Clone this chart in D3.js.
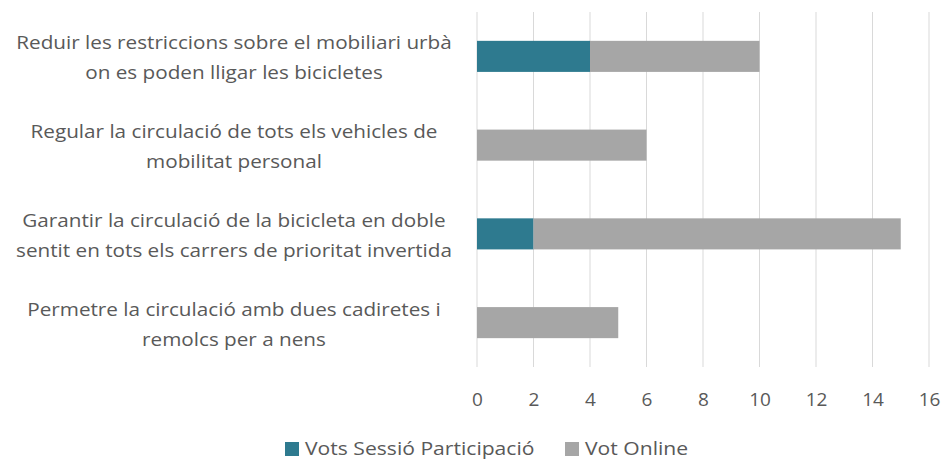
<!DOCTYPE html>
<html>
<head>
<meta charset="utf-8">
<script src="https://cdn.jsdelivr.net/npm/d3@7"></script>
<style>
  body { margin: 0; background: #fff; }
  text { font-family: "Open Sans", sans-serif; fill: #595959; }
</style>
</head>
<body>
<div id="container"></div>
<script>
/* DATA */
const categories = [
  ["Reduir les restriccions sobre el mobiliari urbà", "on es poden lligar les bicicletes"],
  ["Regular la circulació de tots els vehicles de", "mobilitat personal"],
  ["Garantir la circulació de la bicicleta en doble", "sentit en tots els carrers de prioritat invertida"],
  ["Permetre la circulació amb dues cadiretes i", "remolcs per a nens"]
];
const votsSessio = [4, 0, 2, 0];
const votOnline = [6, 6, 13, 5];
const seriesNames = ["Vots Sessió Participació", "Vot Online"];
const xTicks = [0, 2, 4, 6, 8, 10, 12, 14, 16];

/* CONSTANTS */
const width = 942, height = 460;
const margin = {top: 12, bottom: 93, left: 477, right: 13};
const colors = ["#2E7A8F", "#A6A6A6"];
const stretch = 1.15; // text in the reference is a bit wider than Open Sans

const rows = categories.map((c, i) => ({key: i, lines: c, s: votsSessio[i], o: votOnline[i]}));

const svg = d3.select("#container")
  .append("svg")
  .attr("width", width)
  .attr("height", height);

const xScale = d3.scaleLinear()
  .domain([0, 16])
  .range([margin.left, width - margin.right]);

const yScale = d3.scaleBand()
  .domain(rows.map(d => d.key))
  .range([margin.top, height - margin.bottom])
  .paddingInner(0.65)
  .paddingOuter(0.325);

// gridlines
svg.append("g")
  .selectAll("line")
  .data(xTicks)
  .join("line")
  .attr("x1", d => xScale(d))
  .attr("x2", d => xScale(d))
  .attr("y1", margin.top)
  .attr("y2", height - margin.bottom)
  .attr("stroke", "#D9D9D9")
  .attr("stroke-width", 1);

// x axis labels
const xAxis = d3.axisBottom(xScale).tickValues(xTicks).tickSize(0).tickPadding(0);
const xAxisGroup = svg.append("g")
  .attr("transform", `translate(0,${height - margin.bottom})`)
  .call(xAxis);
xAxisGroup.select(".domain").remove();
xAxisGroup.selectAll("text")
  .attr("font-size", 19)
  .attr("font-family", "Open Sans, sans-serif")
  .attr("fill", "#595959")
  .attr("dy", null)
  .attr("y", 39);

// stacked bars
const stack = d3.stack().keys(["s", "o"]);
const stacked = stack(rows);

svg.append("g")
  .selectAll("g")
  .data(stacked)
  .join("g")
  .attr("fill", (d, i) => colors[i])
  .selectAll("rect")
  .data(d => d)
  .join("rect")
  .attr("x", d => xScale(d[0]))
  .attr("y", d => yScale(d.data.key))
  .attr("width", d => xScale(d[1]) - xScale(d[0]))
  .attr("height", yScale.bandwidth());

// category labels
const labels = svg.append("g")
  .selectAll("text")
  .data(rows)
  .join("text")
  .attr("text-anchor", "middle")
  .attr("font-size", 18)
  .attr("transform", d => `translate(234,${yScale(d.key) + yScale.bandwidth() / 2}) scale(${stretch},1)`);

labels.selectAll("tspan")
  .data(d => d.lines.map((l, j) => ({l, j})))
  .join("tspan")
  .attr("x", 0)
  .attr("y", d => d.j === 0 ? -7 : 23)
  .text(d => d.l);

// legend
const legendX = [285, 565];
const legend = svg.append("g")
  .selectAll("g")
  .data(seriesNames)
  .join("g")
  .attr("transform", (d, i) => `translate(${legendX[i]},442)`);
legend.append("rect")
  .attr("width", 14)
  .attr("height", 14)
  .attr("fill", (d, i) => colors[i]);
legend.append("text")
  .attr("transform", `translate(20,13) scale(${stretch * 1.02},1)`)
  .attr("font-size", 18)
  .text(d => d);
</script>
</body>
</html>
